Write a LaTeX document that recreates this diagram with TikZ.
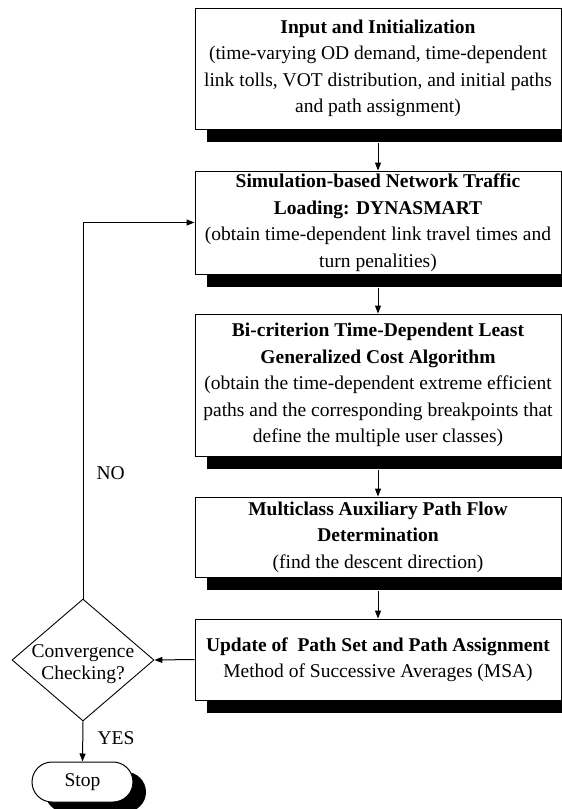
\documentclass[tikz,border=0pt]{standalone}
\usepackage{fontspec}
\setmainfont{Liberation Serif}
\usetikzlibrary{arrows.meta,shapes.geometric,shadows}
\begin{document}
\begin{tikzpicture}[x=1pt,y=-1pt,
  every node/.style={font=\fontsize{19.5}{26.5}\selectfont},
  procbox/.style={draw, line width=1pt, fill=white, minimum width=366pt, align=center, inner sep=0pt,
    drop shadow={shadow xshift=12pt, shadow yshift=-13pt, fill=black, opacity=1}},
  arr/.style={-{Triangle[length=8pt,width=6pt]}, line width=1pt}]
\useasboundingbox (0,0) rectangle (562,809);
\clip (0,0) rectangle (562,809);

\node[procbox, minimum height=121pt] (b1) at (378,68.5)
  {\textbf{Input and Initialization}\\(time-varying OD demand, time-dependent\\link tolls, VOT distribution, and initial paths\\and path assignment)};
\node[procbox, minimum height=103pt] (b2) at (378,222.5)
  {\textbf{Simulation-based Network Traffic}\\\textbf{Loading: DYNASMART}\\(obtain time-dependent link travel times and\\turn penalities)};
\node[procbox, minimum height=142pt] (b3) at (378,385)
  {\textbf{Bi-criterion Time-Dependent Least}\\\textbf{Generalized Cost Algorithm}\\(obtain the time-dependent extreme efficient\\paths and the corresponding breakpoints that\\define the multiple user classes)};
\node[procbox, minimum height=80pt] (b4) at (378,537)
  {\textbf{Multiclass Auxiliary Path Flow}\\\textbf{Determination}\\(find the descent direction)};
\node[procbox, minimum height=81pt] (b5) at (378,659.5)
  {\textbf{Update of\ \ Path Set and Path Assignment}\\Method of Successive Averages (MSA)};

\node[diamond, draw, line width=0.9pt, fill=white, minimum width=142pt, minimum height=122pt, inner sep=0pt] (conv) at (83,660) {};
\node[align=center, font=\fontsize{19.5}{21.5}\selectfont] (convt) at (83,664) {Convergence\\Checking?};

\node[draw, line width=1pt, fill=white, rounded corners=20pt, minimum width=101pt, minimum height=40pt, inner sep=0pt,
  drop shadow={shadow xshift=13pt, shadow yshift=-10pt, fill=black, opacity=1}] (stop) at (82.5,782) {Stop};

\draw[arr] ([yshift=-13pt]b1.south) -- (b2.north);
\draw[arr] ([yshift=-13pt]b2.south) -- (b3.north);
\draw[arr] ([yshift=-13pt]b3.south) -- (b4.north);
\draw[arr] ([yshift=-13pt]b4.south) -- (b5.north);
\draw[arr] (b5.west) -- (conv.east);
\draw[arr] (conv.north) |- (b2.west);
\draw[arr] (conv.south) -- (stop.north);

\node[anchor=west] (no) at (93,473) {NO};
\node[anchor=west] (yes) at (94,738) {YES};
\end{tikzpicture}
\end{document}
